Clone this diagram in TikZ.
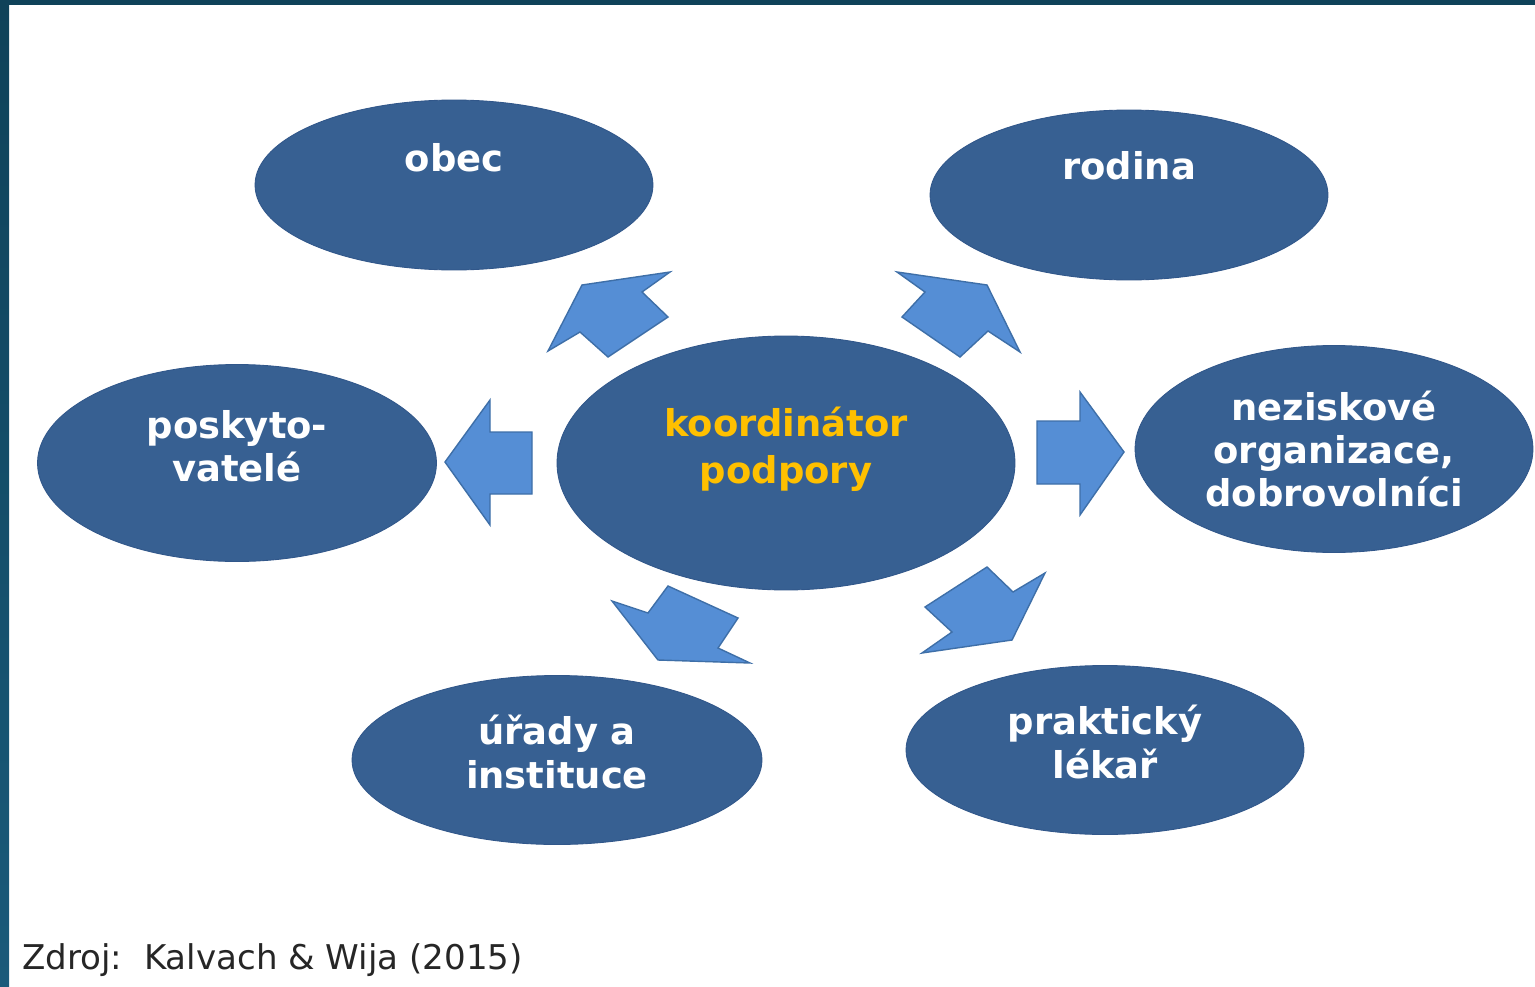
\documentclass[tikz,border=0pt]{standalone}
\usepackage{fontspec}
\setmainfont{DejaVu Sans}
\usetikzlibrary{shapes.geometric}

\tikzset{
	bubble/.style={ellipse, fill=bubbleblue, draw=bubbleline, line width=0.5pt, inner sep=0pt},
	bubbletext/.style={text=white, align=center, font=\bfseries\fontsize{21}{24.5}\selectfont},
	blockarrow/.style={fill=arrowblue, draw=arrowline, line width=0.8pt, line join=miter},
}

\begin{document}
\begin{tikzpicture}[x=0.02cm, y=-0.02cm]
		\definecolor{bubbleblue}{HTML}{376092}
		\definecolor{bubbleline}{HTML}{31578A}
		\definecolor{arrowblue}{HTML}{558ED5}
		\definecolor{arrowline}{HTML}{3E6FA8}
		\definecolor{framedark}{HTML}{0F4259}
		\definecolor{framelight}{HTML}{1A5A7A}
		\definecolor{gold}{HTML}{FFC000}
		
		% plocha a ramecek
		\useasboundingbox (0,0) rectangle (1535,987);
		\fill[white] (0,0) rectangle (1535,987);
		\fill[framedark] (0,0) rectangle (1535,5);
		\shade[top color=framedark, bottom color=framelight] (0,0) rectangle (9,987);
		
		% elipsy
		\node[bubble, minimum width=7.96cm, minimum height=3.4cm] (obec) at (454,185) {};
		\node[bubble, minimum width=7.96cm, minimum height=3.4cm] (rodina) at (1129,195) {};
		\node[bubble, minimum width=9.16cm, minimum height=5.08cm] (koord) at (786,463) {};
		\node[bubble, minimum width=7.98cm, minimum height=3.94cm] (poskyt) at (237,463) {};
		\node[bubble, minimum width=7.96cm, minimum height=4.14cm] (nezisk) at (1334,449) {};
		\node[bubble, minimum width=8.2cm, minimum height=3.38cm] (urady) at (557,760) {};
		\node[bubble, minimum width=7.96cm, minimum height=3.38cm] (prakt) at (1105,750) {};
		
		% texty
		\node[bubbletext] (obec-t) at (454,158) {obec};
		\node[bubbletext] (rodina-t) at (1129,166) {rodina};
		\node[bubbletext, text=gold, font=\bfseries\fontsize{21}{26.6}\selectfont] (koord-t) at (786,449) {koordinátor\\podpory};
		\node[bubbletext] (poskyt-t) at (237,446) {poskyto-\\vatelé};
		\node[bubbletext] (nezisk-t) at (1334,449) {neziskové\\organizace,\\dobrovolníci};
		\node[bubbletext] (urady-t) at (557,752) {úřady a\\instituce};
		\node[bubbletext] (prakt-t) at (1105,742) {praktický\\lékař};
		
		% sipky
		\draw[blockarrow] (582,285) -- (670,272) -- (642,292) -- (668,317) -- (608,357) -- (580,332) -- (548,351) -- cycle;
		\draw[blockarrow] (897,272) -- (987,285) -- (1020,352) -- (988,331) -- (960,357) -- (902,317) -- (925,292) -- cycle;
		\draw[blockarrow] (532,432) -- (490,432) -- (490,400) -- (445,462) -- (490,525) -- (490,494) -- (532,494) -- cycle;
		\draw[blockarrow] (1037,421) -- (1080,421) -- (1080,392) -- (1124,452) -- (1080,515) -- (1080,484) -- (1037,484) -- cycle;
		\draw[blockarrow] (612,601) -- (648,613) -- (668,586) -- (738,618) -- (718,648) -- (750,663) -- (658,660) -- cycle;
		\draw[blockarrow] (1045,573) -- (1012,640) -- (922,653) -- (952,632) -- (925,607) -- (987,567) -- (1013,592) -- cycle;
		
		% zdroj
		\node[anchor=west, inner sep=0pt, text=black!85, font=\fontsize{19.4}{23}\selectfont] (zdroj) at (22,960) {Zdroj:\ \ Kalvach \& Wija (2015)};
	\end{tikzpicture}
\end{document}
